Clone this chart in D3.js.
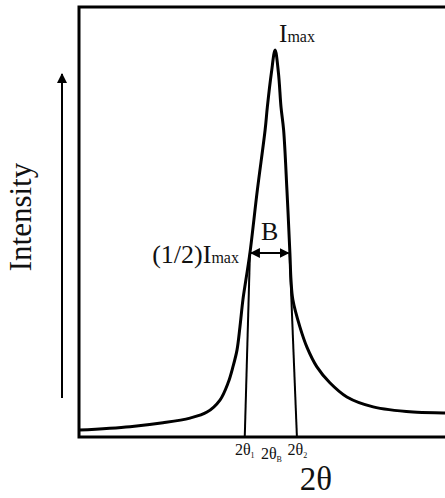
<!DOCTYPE html>
<html>
<head>
<meta charset="utf-8">
<script src="https://cdn.jsdelivr.net/npm/d3@7"></script>
<style>
  html, body { margin: 0; padding: 0; background: #fff; }
  svg { display: block; }
  text { font-family: "Liberation Serif", "DejaVu Serif", serif; fill: #111; }
</style>
</head>
<body>
<svg id="chart" width="445" height="498"></svg>
<script>
// ---- data (arbitrary units: 2θ position, intensity) ----
const twoTheta = [0, 13.8, 22.7, 30.0, 34.6, 38.1, 40.3, 41.6, 42.7, 43.5, 44.3, 45.1, 46.2, 48.2, 50.3, 50.9, 52.0, 53.0,
                  53.9, 54.6, 55.3, 56.2, 57.0, 57.3, 57.8, 59.7, 61.6, 64.3, 67.8, 72.4, 79.5, 90.3, 98.9, 100];
const intensity = [1.6, 2.4, 3.3, 4.4, 5.8, 8.6, 12.6, 16.3, 20.2, 25.6, 31.9, 36.5, 42.8, 57.4, 71.4, 76.7, 84.7, 90.0,
                   84.7, 76.7, 71.4, 57.4, 42.8, 36.5, 31.9, 25.6, 20.9, 16.3, 12.6, 9.3, 7.0, 5.8, 5.6, 5.5];
const peakPos = 53.0, peakI = 90.0, halfMax = 42.8;
const theta1Line = [[44.8, 0], [46.2, halfMax]];
const theta2Line = [[58.9, 0], [56.9, halfMax]];
const tickLabels = [{base: "2θ", sub: "1", x: 44.8}, {base: "2θ", sub: "B", x: 52.0}, {base: "2θ", sub: "2", x: 59.0}];

const svg = d3.select("#chart");
const x = d3.scaleLinear().domain([0, 100]).range([79, 449]);
const y = d3.scaleLinear().domain([0, 100]).range([437, 7]);

// frame
svg.append("rect").attr("x", x(0)).attr("y", y(100)).attr("width", 400).attr("height", y(0) - y(100))
  .attr("fill", "none").attr("stroke", "#000").attr("stroke-width", 3);

// curve
const pts = twoTheta.map((d, i) => [d, intensity[i]]);
svg.append("path").datum(pts)
  .attr("d", d3.line().x(d => x(d[0])).y(d => y(d[1])).curve(d3.curveCatmullRom.alpha(0.5)))
  .attr("fill", "none").attr("stroke", "#000").attr("stroke-width", 3);

// FWHM vertical lines
const seg = d3.line().x(d => x(d[0])).y(d => y(d[1]));
[theta1Line, theta2Line].forEach(l => {
  svg.append("path").attr("d", seg(l)).attr("stroke", "#000").attr("stroke-width", 2).attr("fill", "none");
});

// double arrow B
const defs = svg.append("defs");
defs.append("marker").attr("id", "ah").attr("viewBox", "0 0 10 10").attr("refX", 9).attr("refY", 5)
  .attr("markerWidth", 5).attr("markerHeight", 5).attr("orient", "auto-start-reverse")
  .append("path").attr("d", "M0,0 L10,5 L0,10 z").attr("fill", "#000");
svg.append("line").attr("x1", x(theta1Line[1][0]) + 1).attr("x2", x(theta2Line[1][0]) - 1)
  .attr("y1", y(halfMax)).attr("y2", y(halfMax)).attr("stroke", "#000").attr("stroke-width", 2)
  .attr("marker-start", "url(#ah)").attr("marker-end", "url(#ah)");
svg.append("text").attr("x", x((theta1Line[1][0] + theta2Line[1][0]) / 2)).attr("y", y(halfMax) - 13)
  .attr("text-anchor", "middle").attr("font-size", 26).text("B");

// Imax label
const im = svg.append("text").attr("x", x(peakPos) + 4).attr("y", y(peakI) - 8);
im.append("tspan").attr("font-size", 25).text("I");
im.append("tspan").attr("font-size", 16).text("max");

// (1/2)Imax label
const hm = svg.append("text").attr("x", x(theta1Line[1][0]) - 11).attr("y", y(halfMax) + 10).attr("text-anchor", "end");
hm.append("tspan").attr("font-size", 26).text("(1/2)I");
hm.append("tspan").attr("font-size", 16).text("max");

// tick labels
tickLabels.forEach((t, i) => {
  const tx = svg.append("text").attr("x", x(t.x)).attr("y", y(0) + (i === 1 ? 22 : 18))
    .attr("text-anchor", "middle").attr("fill", "#333");
  tx.append("tspan").attr("font-size", 16).text(t.base);
  tx.append("tspan").attr("font-size", 8).attr("dy", 3).text(t.sub);
});

// axis titles
svg.append("text").attr("x", 316).attr("y", 490).attr("text-anchor", "middle").attr("font-size", 33).text("2θ");
svg.append("text").attr("transform", "translate(31,217) rotate(-90)").attr("text-anchor", "middle")
  .attr("font-size", 31).text("Intensity");

// intensity arrow
svg.append("line").attr("x1", 62).attr("x2", 62).attr("y1", 398).attr("y2", 74)
  .attr("stroke", "#000").attr("stroke-width", 2).attr("marker-end", "url(#ah)");
</script>
</body>
</html>
